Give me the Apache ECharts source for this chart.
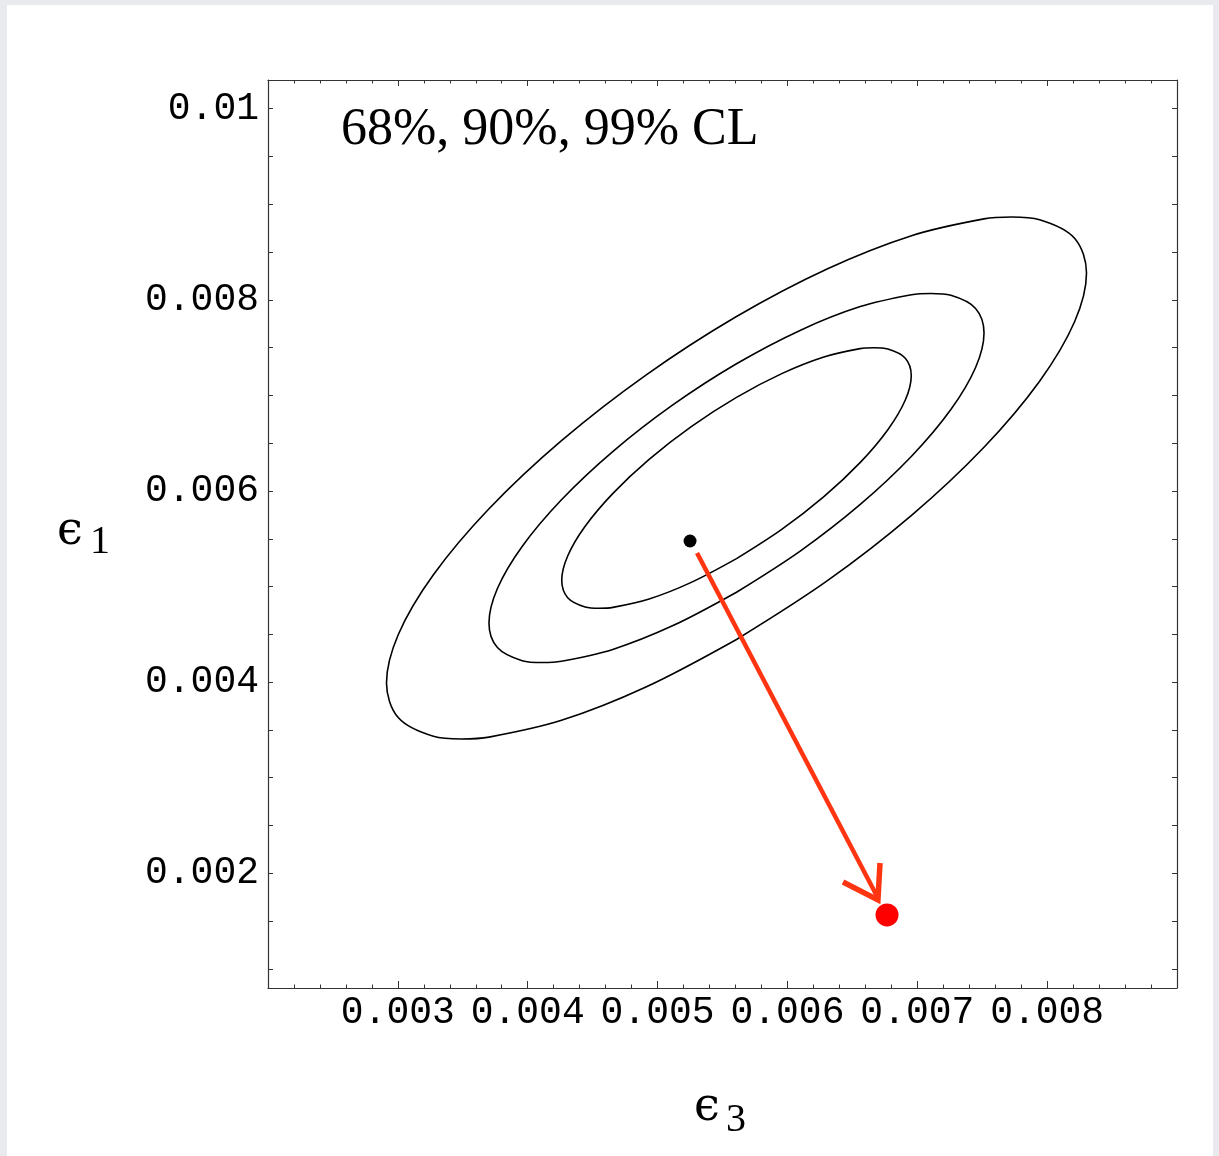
<!DOCTYPE html>
<html>
<head>
<meta charset="utf-8">
<script src="https://cdn.jsdelivr.net/npm/echarts@6/dist/echarts.min.js"></script>
<style>
html,body{margin:0;padding:0;background:#ffffff;}
#chart{width:1219px;height:1156px;}
</style>
</head>
<body>
<div id="chart"></div>
<script>
// ---- data ----
var titleText = '68%, 90%, 99% CL';
var xName = ['\u03f5', '3'];
var yName = ['\u03f5', '1'];

var xTickValues = [0.003, 0.004, 0.005, 0.006, 0.007, 0.008];
var xTickLabels = ['0.003', '0.004', '0.005', '0.006', '0.007', '0.008'];
var yTickValues = [0.002, 0.004, 0.006, 0.008, 0.01];
var yTickLabels = ['0.002', '0.004', '0.006', '0.008', '0.01'];
var yMinorTicks = [0.001, 0.0015, 0.002, 0.0025, 0.003, 0.0035, 0.004, 0.0045, 0.005, 0.0055,
                   0.006, 0.0065, 0.007, 0.0075, 0.008, 0.0085, 0.009, 0.0095, 0.01];

// 99% CL contour (outer)
var contour99 = [
  [0.0056078, 0.0044462], [0.0049103, 0.0039487], [0.0042601, 0.0036002], [0.0037019, 0.0034245],
  [0.0034906, 0.0034054], [0.0032737, 0.0034336], [0.0030044, 0.0036269], [0.0029125, 0.0039911],
  [0.0030044, 0.0045015], [0.0032737, 0.0051234], [0.0037019, 0.0058141], [0.0042601, 0.0065268],
  [0.0049103, 0.0072129], [0.0056078, 0.0078256], [0.0063053, 0.0083231], [0.0069555, 0.0086716],
  [0.0075137, 0.0088473], [0.0077250, 0.0088664], [0.0079419, 0.0088382], [0.0082112, 0.0086449],
  [0.0083031, 0.0082807], [0.0082112, 0.0077703], [0.0079419, 0.0071484], [0.0075137, 0.0064577],
  [0.0069555, 0.0057450], [0.0063053, 0.0050589], [0.0056078, 0.0044462]
];
// 90% CL contour (middle)
var contour90 = [
  [0.0056078, 0.0049409], [0.0051145, 0.0045891], [0.0046547, 0.0043426], [0.0042600, 0.0042184],
  [0.0041106, 0.0042049], [0.0039571, 0.0042248], [0.0037667, 0.0043615], [0.0037017, 0.0046191],
  [0.0037667, 0.0049801], [0.0039571, 0.0054198], [0.0042600, 0.0059084], [0.0046547, 0.0064124],
  [0.0051145, 0.0068977], [0.0056078, 0.0073309], [0.0061011, 0.0076827], [0.0065609, 0.0079292],
  [0.0069556, 0.0080534], [0.0071050, 0.0080669], [0.0072585, 0.0080470], [0.0074489, 0.0079103],
  [0.0075139, 0.0076527], [0.0074489, 0.0072917], [0.0072585, 0.0068520], [0.0069556, 0.0063634],
  [0.0065609, 0.0058594], [0.0061011, 0.0053741], [0.0056078, 0.0049409]
];
// 68% CL contour (inner)
var contour68 = [
  [0.0056078, 0.0052922], [0.0052595, 0.0050438], [0.0049349, 0.0048697], [0.0046562, 0.0047821],
  [0.0045507, 0.0047726], [0.0044423, 0.0047866], [0.0043079, 0.0048831], [0.0042620, 0.0050650],
  [0.0043079, 0.0053199], [0.0044423, 0.0056304], [0.0046562, 0.0059753], [0.0049349, 0.0063311],
  [0.0052595, 0.0066736], [0.0056078, 0.0069796], [0.0059561, 0.0072280], [0.0062807, 0.0074021],
  [0.0065594, 0.0074897], [0.0066649, 0.0074992], [0.0067733, 0.0074852], [0.0069077, 0.0073887],
  [0.0069536, 0.0072068], [0.0069077, 0.0069519], [0.0067733, 0.0066414], [0.0065594, 0.0062965],
  [0.0062807, 0.0059407], [0.0059561, 0.0055982], [0.0056078, 0.0052922]
];

var bestFit = [[0.005250, 0.005477]];
var redPoint = [[0.006767, 0.001564]];
var arrowShaft = [[0.005304, 0.005351], [0.006697, 0.001742]];
var arrowHead = [[0.006428, 0.001909], [0.006697, 0.001721], [0.006713, 0.002108]];

// ---- chart ----
function lookup(vals, labels, v) {
  for (var i = 0; i < vals.length; i++) {
    if (Math.abs(vals[i] - v) < 1e-9) return labels[i];
  }
  return '';
}

var chart = echarts.init(document.getElementById('chart'), null, {renderer: 'canvas'});
var frameColor = '#333333';
var monoFont = '"Liberation Mono", "Courier New", monospace';
var serifFont = '"Liberation Serif", "DejaVu Serif", "Times New Roman", serif';
var epsFont = '"DejaVu Serif", serif';

function contourSeries(name, data) {
  return {type: 'line', name: name, data: data, smooth: 0.34, showSymbol: false, symbol: 'none',
          lineStyle: {color: '#000', width: 1.6}, z: 3};
}

var option = {
  backgroundColor: '#ffffff',
  animation: false,
  grid: {left: 268, right: 42, top: 80, bottom: 168, containLabel: false},
  xAxis: [
    {
      type: 'value', position: 'bottom', min: 0.002, max: 0.009, interval: 0.001,
      axisLine: {show: true, onZero: false, lineStyle: {color: frameColor, width: 1.2}},
      axisTick: {show: true, inside: true, length: 7, lineStyle: {color: frameColor, width: 1}},
      minorTick: {show: true, splitNumber: 5, length: 3.5, lineStyle: {color: frameColor, width: 1}},
      splitLine: {show: false},
      axisLabel: {
        show: true, margin: 6, color: '#000', fontFamily: monoFont, fontSize: 38,
        showMinLabel: false, showMaxLabel: false,
        formatter: function (v) { return lookup(xTickValues, xTickLabels, v); }
      }
    },
    {
      type: 'value', position: 'top', min: 0.002, max: 0.009, interval: 0.001,
      axisLine: {show: true, onZero: false, lineStyle: {color: frameColor, width: 1.2}},
      axisTick: {show: true, inside: true, length: 6, lineStyle: {color: frameColor, width: 1}},
      minorTick: {show: true, splitNumber: 5, length: 3.5, lineStyle: {color: frameColor, width: 1}},
      splitLine: {show: false},
      axisLabel: {show: false}
    }
  ],
  yAxis: [
    {
      type: 'value', position: 'left', min: 0.0008, max: 0.0103,
      axisLine: {show: true, onZero: false, lineStyle: {color: frameColor, width: 1.2}},
      axisTick: {show: true, inside: true, length: 5, customValues: yMinorTicks, lineStyle: {color: frameColor, width: 1}},
      splitLine: {show: false},
      axisLabel: {
        show: true, margin: 9, color: '#000', fontFamily: monoFont, fontSize: 38,
        customValues: yTickValues,
        formatter: function (v) { return lookup(yTickValues, yTickLabels, v); }
      }
    },
    {
      type: 'value', position: 'right', min: 0.0008, max: 0.0103,
      axisLine: {show: true, onZero: false, lineStyle: {color: frameColor, width: 1.2}},
      axisTick: {show: true, inside: true, length: 5, customValues: yMinorTicks, lineStyle: {color: frameColor, width: 1}},
      splitLine: {show: false},
      axisLabel: {show: false}
    }
  ],
  series: [
    contourSeries('99% CL', contour99),
    contourSeries('90% CL', contour90),
    contourSeries('68% CL', contour68),
    {type: 'line', name: 'shift', data: arrowShaft, showSymbol: false, symbol: 'none',
     lineStyle: {color: '#ff3512', width: 4.5}, z: 4},
    {type: 'line', name: 'head', data: arrowHead, showSymbol: false, symbol: 'none',
     lineStyle: {color: '#ff3512', width: 5.5, join: 'miter'}, z: 4},
    {type: 'scatter', name: 'best fit', data: bestFit, symbol: 'circle', symbolSize: 13,
     itemStyle: {color: '#000', opacity: 1}, z: 5},
    {type: 'scatter', name: 'point', data: redPoint, symbol: 'circle', symbolSize: 23,
     itemStyle: {color: '#ff0000', opacity: 1}, z: 5}
  ],
  graphic: [
    {type: 'rect', left: 0, top: 0, shape: {width: 1219, height: 5}, style: {fill: '#e8eaee'}, silent: true},
    {type: 'rect', left: 0, top: 0, shape: {width: 7, height: 1156}, style: {fill: '#e8eaee'}, silent: true},
    {type: 'rect', right: 0, top: 0, shape: {width: 6, height: 1156}, style: {fill: '#e8eaee'}, silent: true},
    {type: 'text', x: 341, y: 130, style: {text: titleText, font: '52px ' + serifFont, fill: '#000', textVerticalAlign: 'middle'}},
    {type: 'text', x: 57, y: 532, style: {text: yName[0], font: '46px ' + epsFont, fill: '#000', textVerticalAlign: 'middle'}},
    {type: 'text', x: 90, y: 542, style: {text: yName[1], font: '40px ' + serifFont, fill: '#000', textVerticalAlign: 'middle'}},
    {type: 'text', x: 694, y: 1108, style: {text: xName[0], font: '46px ' + epsFont, fill: '#000', textVerticalAlign: 'middle'}},
    {type: 'text', x: 726, y: 1120, style: {text: xName[1], font: '40px ' + serifFont, fill: '#000', textVerticalAlign: 'middle'}}
  ]
};
chart.setOption(option);
</script>
</body>
</html>
